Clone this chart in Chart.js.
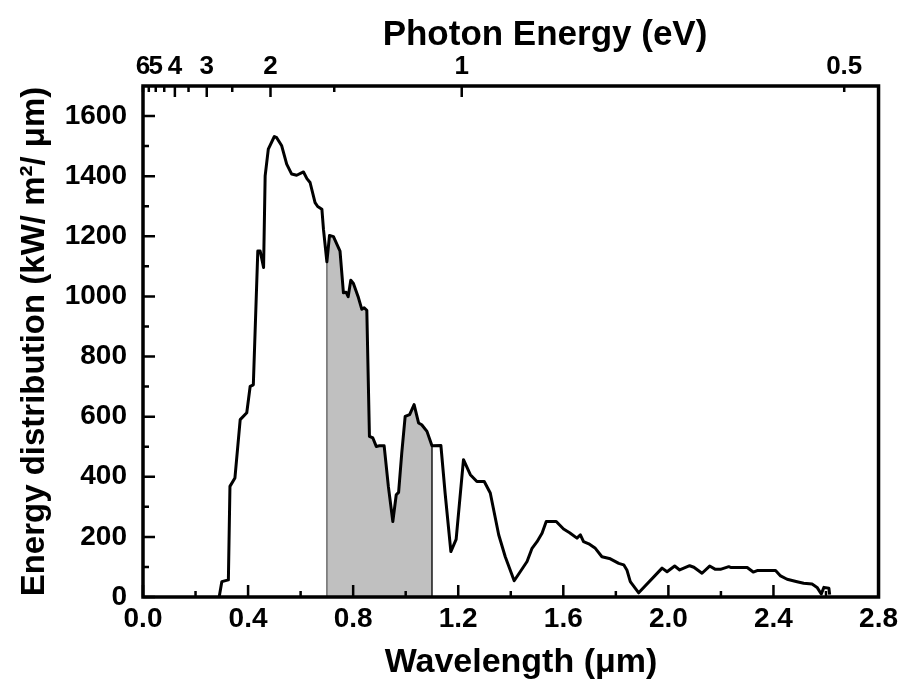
<!DOCTYPE html>
<html>
<head>
<meta charset="utf-8">
<script src="https://cdn.jsdelivr.net/npm/chart.js@4"></script>
<style>
  html, body { margin: 0; padding: 0; background: #fff; }
  #wrap { width: 903px; height: 686px; position: relative; }
</style>
</head>
<body>
<div id="wrap"><canvas id="chart"></canvas></div>
<script>
// wavelength (um) and energy distribution (kW/m2/um)
const wavelength = [
  0.290, 0.300, 0.325, 0.331, 0.350, 0.370, 0.395, 0.408, 0.420, 0.437,
  0.446, 0.459, 0.465, 0.477, 0.500, 0.509, 0.528, 0.547, 0.566, 0.585,
  0.611, 0.624, 0.636, 0.655, 0.665, 0.681, 0.687, 0.700, 0.710, 0.725,
  0.750, 0.763, 0.773, 0.781, 0.791, 0.801, 0.820, 0.833, 0.842, 0.852,
  0.862, 0.875, 0.888, 0.900, 0.918, 0.934, 0.951, 0.964, 0.973, 0.985,
  0.998, 1.015, 1.032, 1.049, 1.061, 1.081, 1.100, 1.134, 1.150, 1.172,
  1.192, 1.220, 1.246, 1.271, 1.299, 1.322, 1.354, 1.379, 1.413, 1.436,
  1.462, 1.481, 1.500, 1.519, 1.535, 1.573, 1.601, 1.624, 1.652, 1.665,
  1.677, 1.697, 1.722, 1.747, 1.779, 1.811, 1.830, 1.842, 1.855, 1.887,
  1.976, 1.995, 2.024, 2.043, 2.081, 2.097, 2.128, 2.157, 2.179, 2.198,
  2.230, 2.239, 2.300, 2.323, 2.338, 2.408, 2.427, 2.452, 2.490, 2.515,
  2.547, 2.566, 2.582, 2.592, 2.611, 2.614
];
const irradiance = [
  0, 51, 57, 368, 396, 590, 613, 701, 706, 1151,
  1151, 1096, 1401, 1490, 1532, 1528, 1501, 1440, 1407, 1403,
  1414, 1392, 1379, 1312, 1299, 1290, 1223, 1115, 1203, 1199,
  1151, 1012, 1014, 999, 1054, 1043, 996, 957, 962, 954,
  534, 529, 501, 503, 503, 368, 251, 340, 348, 479,
  601, 607, 640, 579, 573, 551, 503, 504, 346, 151,
  192, 457, 407, 384, 384, 346, 207, 134, 54, 84,
  118, 162, 184, 212, 251, 251, 226, 214, 196, 207,
  184, 177, 162, 134, 127, 112, 107, 90, 51, 14,
  96, 84, 103, 90, 104, 99, 79, 103, 92, 92,
  101, 98, 98, 83, 88, 88, 70, 59, 51, 46,
  43, 32, 10, 32, 29, 8
];

// shaded band (um)
const bandFrom = 0.7;
const bandTo = 1.1;

// axes
const xTicks = [0, 0.4, 0.8, 1.2, 1.6, 2.0, 2.4, 2.8];
const xMinor = [0.2, 0.6, 1.0, 1.4, 1.8, 2.2, 2.6];
const yTicks = [0, 200, 400, 600, 800, 1000, 1200, 1400, 1600];
const yMinor = [100, 300, 500, 700, 900, 1100, 1300, 1500];
const energyTicks = [6, 5, 4, 3, 2, 1, 0.5];
const energyMinor = [5.5, 4.5, 3.5, 2.5, 1.5];

const topTitle = 'Photon Energy (eV)';
const bottomTitle = 'Wavelength (\u03bcm)';
const leftTitle = 'Energy distribution (kW/ m\u00b2/ \u03bcm)';

// top axis of the original is linear in 1/E, zero at 6 eV
const topScaleK = 1.456;
const energyToPos = e => topScaleK * (1 / e - 1 / 6);

const curve = wavelength.map((x, i) => ({ x, y: irradiance[i] }));
const band = [{ x: bandFrom, y: 0 }]
  .concat(curve.filter(p => p.x >= bandFrom && p.x <= bandTo))
  .concat([{ x: bandTo, y: 0 }]);

const FONT = "'Liberation Sans', Arial, Helvetica, sans-serif";
Chart.defaults.font.family = FONT;
Chart.defaults.color = '#000';

const frameAndTicks = {
  id: 'frameAndTicks',
  afterDatasetsDraw(chart) {
    const { ctx, chartArea: a, scales } = chart;
    ctx.save();
    ctx.strokeStyle = '#000';
    ctx.lineWidth = 2.5;
    ctx.beginPath();
    xTicks.forEach(v => {
      const px = scales.x.getPixelForValue(v);
      ctx.moveTo(px, a.bottom); ctx.lineTo(px, a.bottom - 12);
    });
    xMinor.forEach(v => {
      const px = scales.x.getPixelForValue(v);
      ctx.moveTo(px, a.bottom); ctx.lineTo(px, a.bottom - 6);
    });
    yTicks.forEach(v => {
      const py = scales.y.getPixelForValue(v);
      ctx.moveTo(a.left, py); ctx.lineTo(a.left + 12, py);
    });
    yMinor.forEach(v => {
      const py = scales.y.getPixelForValue(v);
      ctx.moveTo(a.left, py); ctx.lineTo(a.left + 6, py);
    });
    energyTicks.forEach(e => {
      const px = scales.xTop.getPixelForValue(energyToPos(e));
      ctx.moveTo(px, a.top); ctx.lineTo(px, a.top + (e === 0.5 || e >= 5 ? 6 : 11));
    });
    energyMinor.forEach(e => {
      const px = scales.xTop.getPixelForValue(energyToPos(e));
      ctx.moveTo(px, a.top); ctx.lineTo(px, a.top + 6);
    });
    ctx.stroke();
    ctx.lineWidth = 3.5;
    ctx.strokeRect(a.left, a.top, a.right - a.left, a.bottom - a.top);

    // horizontal axis titles (sit a bit right of the plot centre in the original)
    ctx.fillStyle = '#000';
    ctx.textAlign = 'center';
    ctx.textBaseline = 'alphabetic';
    ctx.font = 'bold 35px ' + FONT;
    ctx.fillText(topTitle, 545, 45);
    ctx.font = 'bold 34px ' + FONT;
    ctx.fillText(bottomTitle, 521, 672);
    ctx.restore();
  }
};

new Chart(document.getElementById('chart'), {
  type: 'line',
  data: {
    datasets: [
      {
        data: curve,
        borderColor: '#000',
        borderWidth: 3,
        pointRadius: 0,
        tension: 0,
        fill: false,
        borderJoinStyle: 'round',
        order: 0
      },
      {
        data: band,
        borderColor: '#333',
        borderWidth: 1,
        backgroundColor: '#c0c0c0',
        pointRadius: 0,
        tension: 0,
        fill: 'origin',
        order: 1
      }
    ]
  },
  options: {
    responsive: true,
    maintainAspectRatio: false,
    animation: false,
    layout: { padding: { left: 0, right: 23, top: 0, bottom: 0 } },
    plugins: { legend: { display: false }, tooltip: { enabled: false } },
    scales: {
      x: {
        type: 'linear',
        position: 'bottom',
        min: 0, max: 2.8,
        grid: { display: false, drawTicks: false },
        border: { display: false },
        afterBuildTicks: s => { s.ticks = xTicks.map(value => ({ value })); },
        afterFit: s => { s.height = 89; },
        ticks: {
          autoSkip: false, maxRotation: 0, padding: 5,
          font: { size: 28, weight: 'bold' },
          callback: v => v.toFixed(1)
        }
      },
      xTop: {
        type: 'linear',
        position: 'top',
        min: 0, max: 2.8,
        grid: { display: false, drawTicks: false },
        border: { display: false },
        afterBuildTicks: s => { s.ticks = energyTicks.map(e => ({ value: energyToPos(e) })); },
        afterFit: s => { s.height = 86; },
        ticks: {
          autoSkip: false, maxRotation: 0, padding: 4,
          font: { size: 26, weight: 'bold' },
          callback: (v, i) => String(energyTicks[i])
        }
      },
      y: {
        type: 'linear',
        min: 0, max: 1700,
        grid: { display: false, drawTicks: false },
        border: { display: false },
        afterBuildTicks: s => { s.ticks = yTicks.map(value => ({ value })); },
        afterFit: s => { s.width = 143; },
        ticks: {
          autoSkip: false, padding: 16,
          font: { size: 28, weight: 'bold' },
          callback: v => String(v)
        },
        title: {
          display: true, text: leftTitle,
          font: { size: 33, weight: 'bold' },
          padding: { top: 15, bottom: 0 }
        }
      }
    }
  },
  plugins: [frameAndTicks]
});
</script>
</body>
</html>
